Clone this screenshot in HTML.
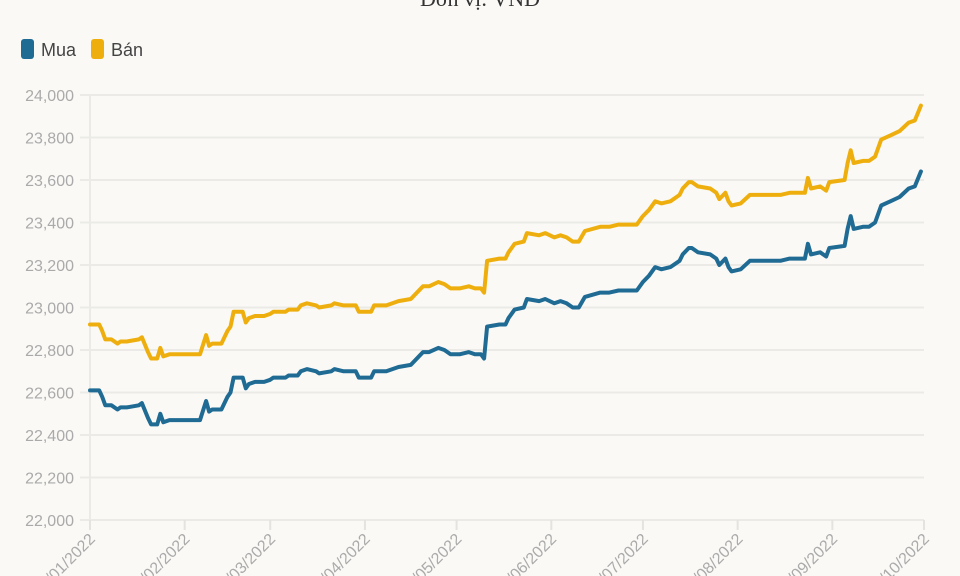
<!DOCTYPE html>
<html><head><meta charset="utf-8"><style>
body{margin:0;background:#faf9f6;}
svg{display:block;font-family:"Liberation Sans",sans-serif;}
</style></head><body>
<svg id="chart" width="960" height="576" viewBox="0 0 960 576">
<rect width="960" height="576" fill="#faf9f6"/>
<text x="480" y="6" text-anchor="middle" font-family="Liberation Serif,serif" font-size="22" fill="#333">Đơn vị: VND</text>
<g>
<g><rect x="21" y="39" width="13" height="20" rx="3" fill="#1f6b94"/><text x="41" y="56" font-size="18" fill="#444">Mua</text></g>
<g><rect x="91" y="39" width="13" height="20" rx="3" fill="#eeaf0e"/><text x="111" y="56" font-size="18" fill="#444">Bán</text></g>
</g>
<g id="grid"></g>
<g id="yaxis"></g>
<g id="xaxis"></g>
<g id="series"></g>
</svg>
<script>
const yTicks=[22000,22200,22400,22600,22800,23000,23200,23400,23600,23800,24000];
const xTickDays=[0,31,59,90,120,151,181,212,243,273];
const xTickLabels=["01/01/2022","01/02/2022","01/03/2022","01/04/2022","01/05/2022","01/06/2022","01/07/2022","01/08/2022","01/09/2022","01/10/2022"];
const days=[0,3,4,5,7,9,10,12,16,17,19,20,22,23,24,26,36,38,39,40,43,45,46,47,50,51,52,54,57,59,60,64,65,68,69,71,74,75,79,80,83,87,88,92,93,97,101,105,107,109,111,114,116,118,121,124,126,128,129,130,134,136,137,139,142,143,147,149,152,154,156,158,160,162,167,170,173,179,181,183,185,187,190,193,194,196,197,199,203,205,206,208,209,210,213,216,226,229,234,235,236,239,241,242,247,248,249,250,253,255,257,259,262,265,268,270,272];
const mua=[22610,22610,22580,22540,22540,22520,22530,22530,22540,22550,22480,22450,22450,22500,22460,22470,22470,22560,22510,22520,22520,22580,22600,22670,22670,22620,22640,22650,22650,22660,22670,22670,22680,22680,22700,22710,22700,22690,22700,22710,22700,22700,22670,22670,22700,22700,22720,22730,22760,22790,22790,22810,22800,22780,22780,22790,22780,22780,22760,22910,22920,22920,22950,22990,23000,23040,23030,23040,23020,23030,23020,23000,23000,23050,23070,23070,23080,23080,23120,23150,23190,23180,23190,23220,23250,23280,23280,23260,23250,23230,23200,23230,23190,23170,23180,23220,23220,23230,23230,23300,23250,23260,23240,23280,23290,23370,23430,23370,23380,23380,23400,23480,23500,23520,23560,23570,23640];
const ban=[22920,22920,22890,22850,22850,22830,22840,22840,22850,22860,22790,22760,22760,22810,22770,22780,22780,22870,22820,22830,22830,22890,22910,22980,22980,22930,22950,22960,22960,22970,22980,22980,22990,22990,23010,23020,23010,23000,23010,23020,23010,23010,22980,22980,23010,23010,23030,23040,23070,23100,23100,23120,23110,23090,23090,23100,23090,23090,23070,23220,23230,23230,23260,23300,23310,23350,23340,23350,23330,23340,23330,23310,23310,23360,23380,23380,23390,23390,23430,23460,23500,23490,23500,23530,23560,23590,23590,23570,23560,23540,23510,23540,23500,23480,23490,23530,23530,23540,23540,23610,23560,23570,23550,23590,23600,23680,23740,23680,23690,23690,23710,23790,23810,23830,23870,23880,23950];
const NS="http://www.w3.org/2000/svg";
const X0=90,X1=924,Y0=520,Y1=95;
function xScale(d){return X0+(d-0)/(273-0)*(X1-X0);}
function yScale(v){return Y0-(v-22000)/(24000-22000)*(Y0-Y1);}
function mk(t,a,p){const e=document.createElementNS(NS,t);for(const k in a)e.setAttribute(k,a[k]);p.appendChild(e);return e;}
const grid=document.getElementById('grid'),ya=document.getElementById('yaxis'),xa=document.getElementById('xaxis'),ser=document.getElementById('series');
yTicks.forEach(v=>{
 const y=yScale(v);
 const l=mk('line',{x1:80,x2:X1,y1:y,y2:y,stroke:'#ebeae7','stroke-width':2},grid);
 
 
 const t=mk('text',{x:74,y:y+6,'text-anchor':'end','font-size':16,fill:'#aaa'},ya);
 t.textContent=v.toLocaleString('en-US');
 
 
});
mk('line',{x1:X0,x2:X0,y1:Y1,y2:Y0,stroke:'#ebeae7','stroke-width':2},grid);
xTickDays.forEach((d,i)=>{
 const x=xScale(d);
 const tk=mk('line',{x1:x,x2:x,y1:Y0,y2:Y0+10,stroke:'#e4e3e0','stroke-width':2},xa);
 
 
 const t=mk('text',{x:x+6,y:Y0+20,'text-anchor':'end','font-size':16,fill:'#aaa',transform:`rotate(-45 ${x+6} ${Y0+20})`},xa);
 t.textContent=xTickLabels[i];
 
 
});
function line(vals,color,name){
 const d=vals.map((v,i)=>(i?'L':'M')+xScale(days[i]).toFixed(1)+','+yScale(v).toFixed(1)).join('');
 const p=mk('path',{d:d,fill:'none',stroke:color,'stroke-width':4,'stroke-linejoin':'round','stroke-linecap':'round'},ser);
 
 
}
line(mua,'#1f6b94','line-mua');
line(ban,'#eeaf0e','line-ban');
</script>
</body></html>
